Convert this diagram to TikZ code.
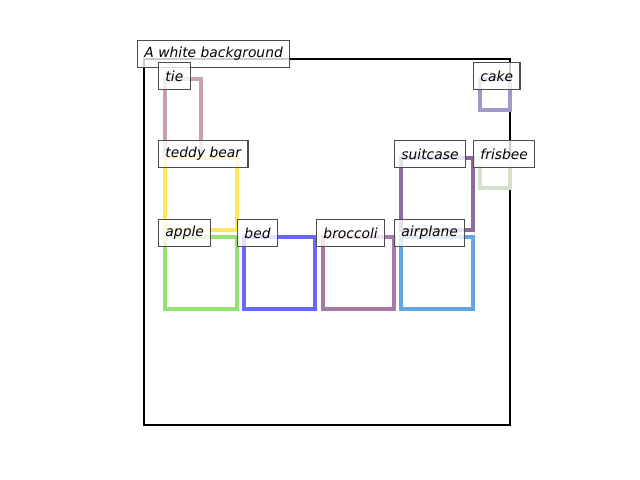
\documentclass[tikz,border=0pt]{standalone}
\usepackage{fontspec}
\setsansfont{DejaVu Sans}
\usepackage{xcolor}
\definecolor{tiecol}{HTML}{C6A2AE}
\definecolor{teddycol}{HTML}{FFE65A}
\definecolor{applecol}{HTML}{96E070}
\definecolor{bedcol}{HTML}{6868FF}
\definecolor{broccolicol}{HTML}{A878A6}
\definecolor{airplanecol}{HTML}{64A6E0}
\definecolor{suitcasecol}{HTML}{8A6AA0}
\definecolor{frisbeecol}{HTML}{D6DECC}
\definecolor{cakecol}{HTML}{A098C8}

\begin{document}
\begin{tikzpicture}[x=0.01in,y=-0.01in,
  box/.style={line width=2.2pt},
  lbl/.style={draw=black!70, line width=0.8pt, fill=white, fill opacity=0.8, text opacity=1,
    font=\sffamily\itshape, anchor=north west, inner xsep=5pt, inner ysep=0pt, minimum height=0.27in}]
\fill[white] (0,0) rectangle (640,480);
\useasboundingbox (0,0) rectangle (640,480);
% frame of the image
\draw[line width=1.6pt] (144,59) rectangle (510,425);
% boxes
\draw[box, tiecol] (165,79) rectangle (201,158);
\draw[box, teddycol] (165,158) rectangle (237,230);
\draw[box, applecol] (165,237) rectangle (237,309);
\draw[box, bedcol] (244,237) rectangle (315,309);
\draw[box, broccolicol] (323,237) rectangle (394,309);
\draw[box, airplanecol] (401,237) rectangle (473,309);
\draw[box, suitcasecol] (401,158) rectangle (473,230);
\draw[box, frisbeecol] (480,158) rectangle (510,188);
\draw[box, cakecol] (480,79) rectangle (510,110);
% labels
\node[lbl] (background) at (137,40) {A white background};
\node[lbl] (tie) at (158,62) {tie};
\node[lbl] (teddy) at (158,140) {teddy bear};
\node[lbl] (apple) at (158,219) {apple};
\node[lbl] (bed) at (237,219) {bed};
\node[lbl] (broccoli) at (316,219) {broccoli};
\node[lbl] (airplane) at (394,219) {airplane};
\node[lbl] (suitcase) at (394,140) {suitcase};
\node[lbl] (frisbee) at (473,140) {frisbee};
\node[lbl] (cake) at (473,62) {cake};
\end{tikzpicture}
\end{document}
